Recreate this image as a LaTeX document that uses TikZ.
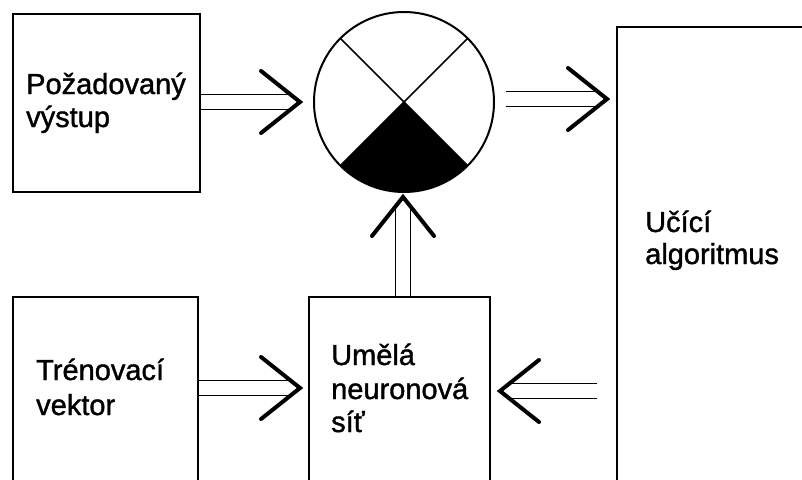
\documentclass[tikz,border=0pt]{standalone}
\usepackage{fontspec}
\setmainfont{Liberation Sans}
\newfontfamily\capfont[FakeBold=1.3]{Liberation Sans}
\usetikzlibrary{calc}

% Double-shafted arrow with an open chevron head: #1 = tail, #2 = tip
\newcommand\twinarrow[2]{%
  \draw[shaft] ($(#1)!7.5pt!90:(#2)$) -- ($(#2)!9pt!(#1)!7.5pt!-90:(#1)$)
               ($(#1)!7.5pt!-90:(#2)$) -- ($(#2)!9pt!(#1)!7.5pt!90:(#1)$);
  \draw[barb] ($(#2)!49.8pt!38.5:(#1)$) -- (#2) -- ($(#2)!49.8pt!-38.5:(#1)$);
}

\begin{document}
\begin{tikzpicture}[x=1pt,y=-1pt,
  block/.style={draw, line width=2pt, rectangle, anchor=north west,
                outer sep=0pt, inner sep=0pt},
  txt/.style={anchor=base west, inner sep=0pt, font=\capfont\fontsize{29}{34}\selectfont},
  shaft/.style={line width=1.8pt},
  barb/.style={line width=4pt, line cap=round, line join=miter},
  cross/.style={line width=1.5pt}]

\useasboundingbox (0,0) rectangle (802,479);
\fill[white] (0,0) rectangle (802,479);
\clip (0,0) rectangle (802,479);

% blocks
\node[block, minimum width=187pt, minimum height=178pt] (want)  at (13,14)  {};
\node[block, minimum width=185pt, minimum height=300pt] (train) at (13,297) {};
\node[block, minimum width=181pt, minimum height=300pt] (net)   at (309,297) {};
\node[block, minimum width=330pt, minimum height=560pt] (algo)  at (617,27) {};

% comparator
\node[draw, circle, line width=2pt, minimum size=180pt, inner sep=0pt,
      outer sep=0pt] (sum) at (404,102) {};
\fill (sum.center) -- (sum.-135) arc[start angle=-135, end angle=-45, radius=90pt] -- cycle;
\draw[cross] (sum.135) -- (sum.-45);
\draw[cross] (sum.45) -- (sum.-135);

% captions
\node[txt] (want1)  at (26,94)   {Požadovaný};
\node[txt] (want2)  at (26,127)  {výstup};
\node[txt] (train1) at (36,380)  {Trénovací};
\node[txt] (train2) at (36,415)  {vektor};
\node[txt] (net1)   at (331,365) {Umělá};
\node[txt] (net2)   at (331,399) {neuronová};
\node[txt] (net3)   at (331,432) {síť};
\node[txt] (algo1)  at (645,232) {Učící};
\node[txt] (algo2)  at (645,264) {algoritmus};

% connectors
\coordinate (aT) at (want.east |- sum.center);
\coordinate (aH) at ($(sum.west)+(-14,0)$);
\twinarrow{aT}{aH}

\coordinate (bT) at ($(sum.east)+(12,-3)$);
\coordinate (bH) at ($(bT -| algo.west)+(-10,0)$);
\twinarrow{bT}{bH}

\coordinate (cH) at ($(net.north west)+(-9,91)$);
\coordinate (cT) at (cH -| train.east);
\twinarrow{cT}{cH}

\coordinate (dT) at ($(net.north)+(3.5,0)$);
\coordinate (dH) at ($(dT |- sum.south)+(0,5)$);
\twinarrow{dT}{dH}

\coordinate (eH) at ($(net.north east)+(10,94)$);
\coordinate (eT) at ($(eH -| algo.west)+(-20,0)$);
\twinarrow{eT}{eH}

\end{tikzpicture}
\end{document}
